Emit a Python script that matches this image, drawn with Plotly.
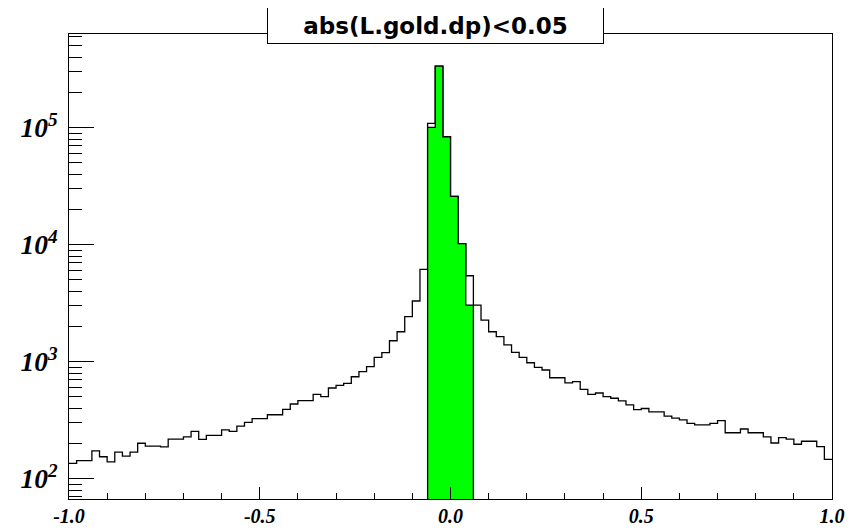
import numpy as np
import plotly.graph_objects as go

# ---- data ----
x_min, x_max, n_bins = -1.0, 1.0, 100
all_counts = [135, 143, 143, 173, 154, 139, 169, 156, 169, 201,
              190, 190, 187, 218, 218, 228, 254, 217, 235, 235,
              261, 254, 281, 303, 326, 326, 352, 352, 392, 435,
              464, 464, 526, 502, 596, 628, 653, 744, 822, 906,
              1091, 1194, 1511, 1803, 2425, 3303, 6160, 109000, 336000, 83700,
              25900, 10200, 5430, 3050, 2270, 1803, 1637, 1390, 1202, 1091,
              980, 896, 849, 729, 729, 658, 675, 581, 526, 540,
              502, 487, 463, 428, 390, 398, 372, 372, 343, 330,
              318, 297, 288, 288, 297, 313, 247, 247, 266, 247,
              247, 228, 202, 224, 218, 197, 209, 209, 188, 146]
cut_edges = [-0.06, -0.04, -0.02, 0.0, 0.02, 0.04, 0.06]
cut_counts = [100700, 336000, 83700, 25900, 10200, 3050]

x_tickvals = [-1.0, -0.5, 0.0, 0.5, 1.0]
x_ticktext = ["-1.0", "-0.5", "0.0", "0.5", "1.0"]
title_text = "abs(L.gold.dp)<0.05"

# ---- layout constants ----
Y_LOG_RANGE = [1.8265, 5.801]
FG = "black"

edges = np.linspace(x_min, x_max, n_bins + 1)

# outline histogram (step line)
outline_x = list(edges)
outline_y = list(all_counts) + [all_counts[-1]]

# green (cut) histogram as a closed polygon down to the axis floor
y_floor = 10 ** Y_LOG_RANGE[0]
gx, gy = [cut_edges[0]], [y_floor]
for i, c in enumerate(cut_counts):
    gx += [cut_edges[i], cut_edges[i + 1]]
    gy += [c, c]
gx.append(cut_edges[-1])
gy.append(y_floor)

fig = go.Figure()
fig.add_trace(go.Scatter(
    x=outline_x, y=outline_y, mode="lines",
    line=dict(shape="hv", color=FG, width=1.3),
    hoverinfo="skip", showlegend=False))
fig.add_trace(go.Scatter(
    x=gx, y=gy, mode="lines", fill="toself", fillcolor="#00ff00",
    line=dict(color=FG, width=1.3),
    hoverinfo="skip", showlegend=False))

xtickfont = dict(family="Liberation Serif", size=20, color=FG,
                 weight="bold", style="italic")
ytickfont = dict(family="Liberation Serif", size=22, color=FG,
                 weight="bold", style="italic")

fig.update_layout(
    width=860, height=521,
    margin=dict(l=61, r=36, t=26, b=30, autoexpand=False),
    paper_bgcolor="white", plot_bgcolor="white",
    showlegend=False,
    xaxis=dict(
        range=[x_min, x_max], tickmode="array",
        tickvals=x_tickvals, ticktext=x_ticktext,
        ticks="inside", ticklen=12, tickwidth=1, tickcolor=FG,
        minor=dict(tickmode="linear", tick0=x_min, dtick=0.1,
                   ticks="inside", ticklen=6, tickwidth=1, tickcolor=FG,
                   showgrid=False),
        showline=True, linecolor=FG, linewidth=1, mirror=True,
        showgrid=False, zeroline=False, tickfont=xtickfont,
        ticklabelstandoff=-1),
    yaxis=dict(
        type="log", range=Y_LOG_RANGE, tickmode="linear", tick0=0, dtick=1,
        exponentformat="power",
        ticks="inside", ticklen=25, tickwidth=1, tickcolor=FG,
        minor=dict(dtick="D1", ticks="inside", ticklen=13, tickwidth=1,
                   tickcolor=FG, showgrid=False),
        showline=True, linecolor=FG, linewidth=1, mirror=True,
        showgrid=False, zeroline=False, tickfont=ytickfont,
        ticklabelstandoff=6),
    annotations=[dict(
        text=title_text, xref="paper", yref="paper",
        x=0.480, y=1.0178, xanchor="center", yanchor="middle",
        showarrow=False,
        font=dict(family="DejaVu Sans", size=23, color=FG, weight="bold"),
        bgcolor="white", bordercolor=FG, borderwidth=1, borderpad=1,
        width=333, height=33)],
)

fig.write_html("out.html")
